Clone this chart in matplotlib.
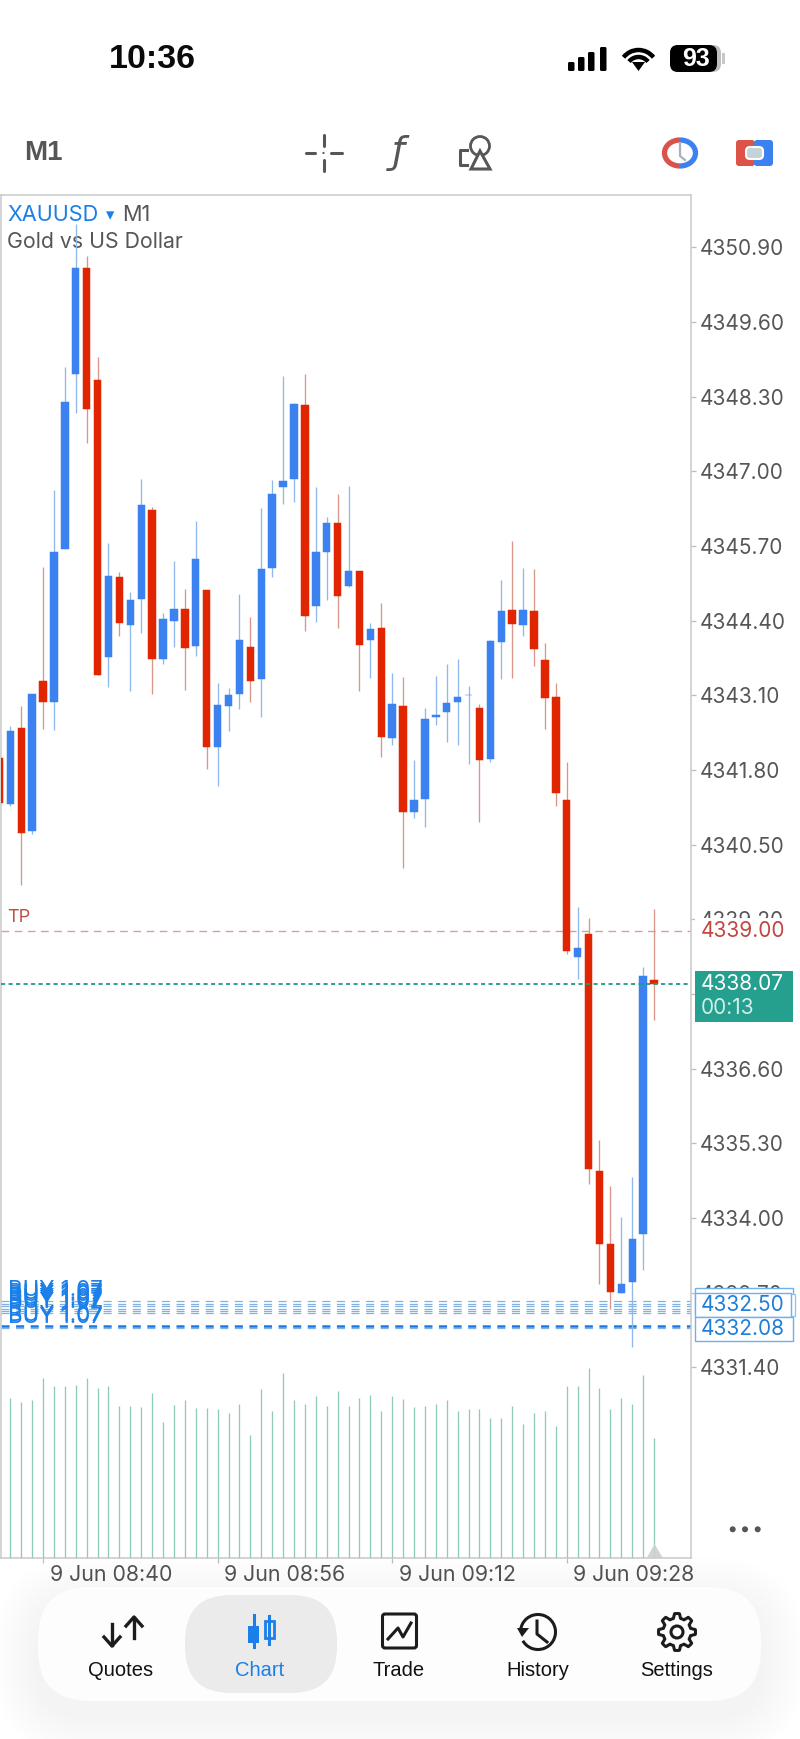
import matplotlib
matplotlib.use("Agg")
import matplotlib.pyplot as plt
import numpy as np
from matplotlib.patches import FancyBboxPatch, Rectangle, Circle, Polygon, Arc
from matplotlib.transforms import ScaledTranslation

# candles, one per minute, starting one bar left of the first full one
opens = [4342.00, 4341.21, 4342.53, 4340.74, 4343.35, 4342.98, 4345.65, 4348.69, 4350.54, 4348.58,
         4343.77, 4345.16, 4344.32, 4344.77, 4346.32, 4343.73, 4344.39, 4344.61, 4343.96, 4344.94,
         4342.20, 4342.92, 4343.13, 4343.94, 4343.38, 4345.31, 4346.73, 4346.86, 4348.16, 4344.66,
         4345.59, 4346.09, 4345.00, 4345.26, 4344.06, 4344.27, 4342.35, 4342.91, 4341.06, 4341.30,
         4342.72, 4342.81, 4342.98, 4343.10, 4342.88, 4341.99, 4344.03, 4344.58, 4344.32, 4344.57,
         4343.72, 4343.07, 4341.27, 4338.54, 4338.94, 4334.82, 4333.54, 4332.70, 4332.89, 4333.73,
         4338.15]
highs = [4342.00, 4342.56, 4342.91, 4343.13, 4345.34, 4346.67, 4348.82, 4351.31, 4350.74, 4348.99,
         4345.75, 4345.24, 4344.89, 4346.86, 4346.37, 4344.54, 4345.44, 4344.95, 4346.13, 4344.94,
         4343.32, 4343.22, 4344.86, 4344.47, 4346.36, 4346.85, 4348.66, 4348.18, 4348.70, 4346.73,
         4346.21, 4346.61, 4346.74, 4345.26, 4344.35, 4344.71, 4343.49, 4343.42, 4341.98, 4342.88,
         4343.43, 4343.65, 4343.73, 4343.26, 4342.94, 4344.06, 4345.10, 4345.78, 4345.31, 4345.30,
         4344.01, 4343.31, 4341.93, 4339.41, 4339.23, 4335.36, 4334.56, 4334.02, 4334.72, 4338.37,
         4339.38]
lows = [4341.22, 4341.17, 4339.80, 4340.68, 4342.52, 4342.49, 4345.65, 4348.02, 4347.49, 4343.46,
        4343.25, 4344.14, 4343.18, 4344.18, 4343.12, 4343.64, 4343.94, 4343.19, 4343.79, 4341.81,
        4341.52, 4342.48, 4342.86, 4342.98, 4342.73, 4345.16, 4346.43, 4346.47, 4344.22, 4344.37,
        4344.76, 4344.27, 4344.99, 4343.18, 4343.40, 4342.02, 4342.23, 4340.10, 4340.97, 4340.81,
        4342.58, 4342.29, 4342.24, 4341.90, 4340.90, 4341.94, 4343.39, 4343.40, 4344.14, 4343.61,
        4342.52, 4341.17, 4338.59, 4338.16, 4334.59, 4332.86, 4332.42, 4332.70, 4331.76, 4333.09,
        4337.45]
closes = [4341.22, 4342.47, 4340.70, 4343.13, 4342.99, 4345.60, 4348.21, 4350.54, 4348.08, 4343.46,
          4345.17, 4344.36, 4344.76, 4346.41, 4343.73, 4344.42, 4344.60, 4343.92, 4345.47, 4342.20,
          4342.93, 4343.11, 4344.06, 4343.35, 4345.29, 4346.60, 4346.83, 4348.17, 4344.48, 4345.59,
          4346.09, 4344.83, 4345.27, 4343.97, 4344.25, 4342.37, 4342.95, 4341.07, 4341.28, 4342.69,
          4342.75, 4342.96, 4343.07, 4343.10, 4341.98, 4344.04, 4344.57, 4344.34, 4344.58, 4343.91,
          4343.06, 4341.40, 4338.65, 4338.70, 4334.86, 4333.55, 4332.71, 4332.86, 4333.63, 4338.22,
          4338.07]

# tick volume, starts at the first full candle
volumes = [160, 156, 158, 180, 172, 172, 173, 180, 170, 172, 152, 152, 151, 165, 136, 153, 158, 150,
           150, 149, 145, 154, 123, 169, 147, 185, 158, 154, 162, 152, 167, 152, 160, 163, 147, 162,
           159, 151, 152, 154, 158, 147, 149, 149, 140, 140, 152, 134, 145, 147, 132, 172, 172, 190,
           170, 149, 160, 154, 183, 120]

price_ticks = [4350.90, 4349.60, 4348.30, 4347.00, 4345.70, 4344.40, 4343.10, 4341.80, 4340.50,
               4339.20, 4337.90, 4336.60, 4335.30, 4334.00, 4332.70, 4331.40]
time_tick_bars = [3, 19, 35, 51]
time_labels = ["9 Jun 08:40", "9 Jun 08:56", "9 Jun 09:12", "9 Jun 09:28"]

tp_price = 4339.00
bid_price = 4338.07
buy_levels = [4332.56, 4332.51, 4332.47, 4332.42, 4332.38, 4332.34, 4332.12, 4332.08]
tab_names = ["Quotes", "Chart", "Trade", "History", "Settings"]

W, H = 800, 1739
BLUE = "#3B82F0"
RED = "#E02500"
BLUE_WICK = "#8FB9EC"
RED_WICK = "#D8968A"
GRAY = "#565656"
MT_BLUE = "#1A7FE8"
PRICE_SIZE = 15

plt.rcParams["lines.scale_dashes"] = False
plt.rcParams["font.family"] = ["Inter", "DejaVu Sans"]


def px_axes(fig, left, top, right, bottom):
    return fig.add_axes([left / W, 1 - bottom / H, (right - left) / W, (bottom - top) / H])


# -------------------------------------------------------------------------------------
def draw_chart(fig, ui):
    ax = px_axes(fig, 1, 195, 690.7, 1558.3)
    ax.set_zorder(2)
    ax.set_facecolor("none")

    bars = np.arange(-1, len(opens) - 1)
    o, h, l, c = map(np.array, (opens, highs, lows, closes))
    up = c >= o
    colors = np.where(up, BLUE, RED)
    wicks = np.where(up, BLUE_WICK, RED_WICK)

    ax.vlines(bars, l, h, colors=wicks, lw=0.95, zorder=2)
    ax.bar(bars, np.abs(c - o), bottom=np.minimum(o, c), width=0.68, color=colors,
           edgecolor=colors, lw=0.35, zorder=3)

    # order lines
    ax.axhline(tp_price, color="#D4A09A", lw=1.0, ls=(0, (5.5, 4)), zorder=1)
    ax.axhline(bid_price, color="#1B9C85", lw=1.3, ls=(0, (3, 2.4)), zorder=4)
    for level in buy_levels:
        strong = level == 4332.12
        ax.axhline(level, color="#1A78E6" if strong else "#7FB2E2", lw=1.8 if strong else 0.9,
                   ls=(0, (5.8, 4.7)), zorder=1)
        ax.annotate("BUY 1.07", (0, level), xycoords=("axes fraction", "data"), xytext=(5, 0.8),
                    textcoords="offset points", color=MT_BLUE, fontsize=16, zorder=5, va="bottom")
    ax.annotate("TP", (0, tp_price), xycoords=("axes fraction", "data"), xytext=(4.5, 3.5),
                textcoords="offset points", color="#BE4F47", fontsize=13, va="bottom")

    ax.set_xlim(-0.944 + 1 / 10.91, 62.36)
    ax.set_ylim(4336.6 + (1068.7 - 1558.3) / 57.45, 4336.6 + (1068.7 - 195) / 57.45)

    ax.yaxis.tick_right()
    ax.set_yticks(price_ticks)
    ax.set_yticklabels(["%.2f" % p for p in price_ticks])
    ax.tick_params(axis="y", length=3.6, width=0.9, color="#BDBDBD", pad=3,
                   labelsize=PRICE_SIZE, labelcolor=GRAY)
    ax.set_xticks(time_tick_bars)
    ax.set_xticklabels(time_labels)
    ax.tick_params(axis="x", length=3.6, width=0.9, color="#BDBDBD", pad=1.5,
                   labelsize=15.4, labelcolor=GRAY)
    shift = ScaledTranslation(6.5 / 100, 0, fig.dpi_scale_trans)
    for label in ax.get_xticklabels():
        label.set_ha("left")
        label.set_transform(label.get_transform() + shift)
    for side in ax.spines.values():
        side.set_color("#C9C9C9")
        side.set_linewidth(1.1)

    # header sits under the candles, the wick of the high bar crosses it
    ax.text(7, 215, "XAUUSD", transform=ui.transData, color=MT_BLUE, fontsize=15.6, va="center", zorder=1)
    ax.text(110, 215, "\u25be", transform=ui.transData, color=MT_BLUE, fontsize=12, ha="center",
            va="center", family="DejaVu Sans", zorder=1)
    ax.text(122, 215, "M1", transform=ui.transData, color=GRAY, fontsize=15.6, va="center", zorder=1)
    ax.text(7, 242, "Gold vs US Dollar", transform=ui.transData, color=GRAY, fontsize=15.3,
            va="center", zorder=1)

    # volume, same bars, bottom of the pane
    vol = px_axes(fig, 1, 1368, 690.7, 1558.3)
    vol.set_zorder(3)
    vol.set_facecolor("none")
    vol.axis("off")
    vol.set_xlim(ax.get_xlim())
    vol.set_ylim(0, 190.3)
    vol.vlines(np.arange(len(volumes)), 0, volumes, colors="#8FCBB9", lw=0.95)


# -------------------------------------------------------------------------------------
def price_box(ui, y0, y1, x1=792.7):
    ui.add_patch(Rectangle((694.7, y0), x1 - 694.7, y1 - y0, fc="white", ec="#6FB1EC", lw=1.0))


def draw_price_tags(ui):
    ui.add_patch(Rectangle((695, 918), 100, 26, fc="white", ec="none"))
    ui.text(701, 931, "4339.00", color="#C0463F", fontsize=PRICE_SIZE, va="center")

    ui.add_patch(Rectangle((694.7, 971.3), 98, 50.7, fc="#26A08E", ec="none"))
    ui.text(701, 984, "4338.07", color="white", fontsize=PRICE_SIZE, va="center")
    ui.text(701, 1008, "00:13", color="#CFEEE7", fontsize=PRICE_SIZE, va="center")

    price_box(ui, 1288.3, 1314)
    ui.add_patch(Rectangle((790, 1294), 5, 22, fc="white", ec="#8FC2EE", lw=0.9))
    price_box(ui, 1292.7, 1317.3, 790.7)
    ui.text(701, 1305, "4332.50", color="#1F7FD8", fontsize=PRICE_SIZE, va="center")
    price_box(ui, 1317.3, 1340.7)
    ui.text(701, 1329, "4332.08", color="#1F7FD8", fontsize=PRICE_SIZE, va="center")

    # scroll marker and more button
    ui.add_patch(Polygon([(646.7, 1558), (654.5, 1544), (663, 1558)], fc="#CFCFCF", ec="none", alpha=0.9))
    for x in (732.7, 745, 757.7):
        ui.add_patch(Circle((x, 1529.3), 3, fc=GRAY, ec="none"))


# -------------------------------------------------------------------------------------
def draw_top(ui):
    ui.text(152, 60, "10:36", family="Liberation Sans", weight="bold", fontsize=24.5, color="#0A0A0A",
            ha="center", va="center")

    # signal
    for x, top in zip((568, 578, 588, 600), (62, 57, 52, 47)):
        ui.add_patch(FancyBboxPatch((x, top), 6.5, 71 - top, boxstyle="round,pad=0,rounding_size=1.5",
                                    fc="black", ec="none"))
    # wifi
    for r, lw in ((19, 3.2), (12, 3.2)):
        ui.add_patch(Arc((638.5, 69), 2 * r, 2 * r, theta1=218, theta2=322, color="black", lw=lw))
    ui.add_patch(Polygon([(632, 62), (645, 62), (638.5, 71)], fc="black", ec="none"))
    # battery
    ui.add_patch(FancyBboxPatch((670, 45), 51, 27, boxstyle="round,pad=0,rounding_size=8", fc="#BFBFBF", ec="none"))
    ui.add_patch(FancyBboxPatch((670, 45), 47, 27, boxstyle="round,pad=0,rounding_size=8", fc="black", ec="none"))
    ui.add_patch(Rectangle((722, 53), 3, 11, fc="#C8C8C8", ec="none"))
    ui.text(696, 59, "93", family="Liberation Sans", weight="bold", fontsize=18, color="white",
            ha="center", va="center")

    ui.text(24, 153, "M1", family="Liberation Sans", weight="bold", fontsize=20, color=GRAY, va="center")

    # crosshair
    for xs, ys in (((306, 315), (153, 153)), ((331, 342), (153, 153)), ((323.5, 323.5), (135, 146)),
                   ((323.5, 323.5), (160, 171))):
        ui.plot(xs, ys, color=GRAY, lw=2.2, solid_capstyle="round")
    ui.add_patch(Circle((323.5, 153), 1.1, fc=GRAY, ec="none"))
    ui.text(399, 153, "\u0192", family="DejaVu Sans", style="italic", fontsize=27, color=GRAY,
            ha="center", va="center")
    # objects
    ui.add_patch(Circle((480, 146), 9.5, fc="none", ec=GRAY, lw=2))
    ui.add_patch(Polygon([(471, 169), (480, 151), (490, 169)], fc="white", ec=GRAY, lw=2.2))
    ui.plot([467, 460, 460, 467], [150, 150, 165, 165], color=GRAY, lw=2.2)

    # clock and one click toggles
    ui.add_patch(Arc((680, 153), 31, 26, theta1=90, theta2=270, color="#D9534A", lw=3.8))
    ui.add_patch(Arc((680, 153), 31, 26, theta1=-90, theta2=90, color="#3B82F0", lw=3.8))
    ui.plot([680, 680, 685], [143, 156, 160], color="#A9B2B8", lw=1.6)
    ui.add_patch(FancyBboxPatch((736, 140), 19, 26, boxstyle="round,pad=0,rounding_size=3", fc="#DD5347", ec="none"))
    ui.add_patch(FancyBboxPatch((754, 140), 19, 26, boxstyle="round,pad=0,rounding_size=3", fc="#3B82F0", ec="none"))
    ui.add_patch(FancyBboxPatch((746, 147), 17, 12, boxstyle="round,pad=0,rounding_size=4", fc="#C5D3D8", ec="white", lw=1.5))


# -------------------------------------------------------------------------------------
def draw_tabs(ui):
    for grow in range(4, 48, 4):
        ui.add_patch(FancyBboxPatch((38 - grow, 1587 - grow + 14), 723 + 2 * grow, 114 + 2 * grow,
                                    boxstyle="round,pad=0,rounding_size=%d" % (50 + grow),
                                    fc="black", ec="none", alpha=0.0035))
    ui.add_patch(FancyBboxPatch((38, 1587), 723, 114, boxstyle="round,pad=0,rounding_size=52", fc="#FDFDFD", ec="none"))
    ui.add_patch(FancyBboxPatch((185, 1595), 152, 98, boxstyle="round,pad=0,rounding_size=46", fc="#EBEBEB", ec="none"))

    for name, x in zip(tab_names, (121, 260, 399, 538, 677)):
        ui.text(x, 1670, name, family="Liberation Sans", fontsize=14.5, ha="center", va="center",
                color=MT_BLUE if name == "Chart" else "#111111")

    # quotes
    ink = "#1C1C1C"
    ui.plot([134, 134], [1618, 1638], color=ink, lw=2.4)
    ui.plot([126, 134, 142], [1626, 1617, 1626], color=ink, lw=2.4)
    ui.plot([112, 112], [1624, 1645], color=ink, lw=2.4)
    ui.plot([104, 112, 120], [1637, 1646, 1637], color=ink, lw=2.4)
    # chart
    ui.plot([253.6, 253.6], [1615, 1647], color=MT_BLUE, lw=2.2)
    ui.add_patch(Rectangle((248, 1626), 11, 17, fc=MT_BLUE, ec="none"))
    ui.plot([269, 269], [1616, 1644], color=MT_BLUE, lw=2.2)
    ui.add_patch(Rectangle((264.5, 1621), 9, 17, fc="#EBEBEB", ec=MT_BLUE, lw=2))
    # trade
    ui.add_patch(FancyBboxPatch((382.5, 1614), 34, 34, boxstyle="round,pad=0,rounding_size=2.5", fc="none", ec=ink, lw=2.2))
    ui.plot([388, 398, 403, 411], [1639, 1628, 1637, 1623], color=ink, lw=2.2)
    # history
    ui.add_patch(Arc((538, 1632), 35, 35, theta1=-170, theta2=150, color=ink, lw=2.2))
    ui.add_patch(Polygon([(517, 1628), (529, 1628), (522, 1637)], fc=ink, ec="none"))
    ui.plot([537, 537, 547], [1621, 1634, 1642], color=ink, lw=2.2)
    # settings
    teeth = np.linspace(0, 2 * np.pi, 48, endpoint=False)
    radius = np.where((teeth * 8 / (2 * np.pi) + 0.25) % 1 < 0.5, 18.5, 14)
    ui.add_patch(Polygon(np.c_[677 + radius * np.sin(teeth), 1632 + radius * np.cos(teeth)],
                         fc="none", ec=ink, lw=2.2, joinstyle="round"))
    ui.add_patch(Circle((677, 1632), 6, fc="none", ec=ink, lw=2.2))


# -------------------------------------------------------------------------------------
if __name__ == "__main__":
    fig = plt.figure(figsize=(W / 100, H / 100), dpi=100, facecolor="white")

    # whole page in pixels, for everything that is not price data
    ui = fig.add_axes([0, 0, 1, 1], facecolor="none")
    ui.set_xlim(0, W)
    ui.set_ylim(H, 0)
    ui.axis("off")
    ui.set_zorder(5)

    draw_chart(fig, ui)
    draw_price_tags(ui)
    draw_top(ui)
    draw_tabs(ui)

    fig.savefig("out.png", dpi=100)
